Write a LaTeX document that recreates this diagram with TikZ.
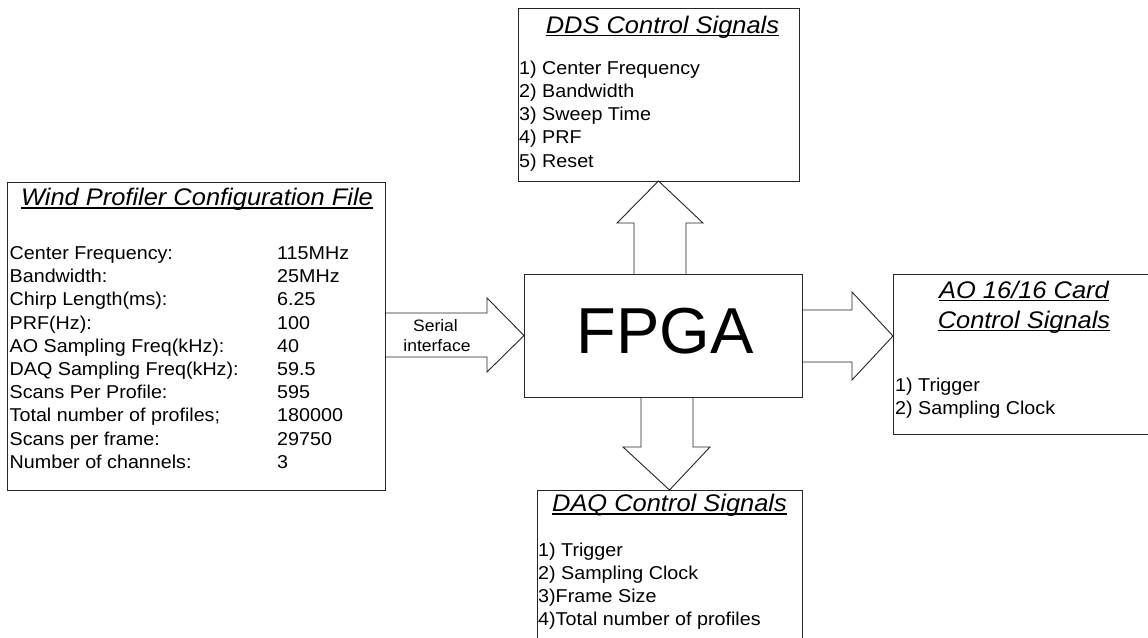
\documentclass[tikz,border=0pt]{standalone}
\usepackage{fontspec}
\setmainfont{Liberation Sans}
\newfontfamily\lsans{Liberation Sans}[FakeStretch=1.06]
\newfontfamily\plainsans{Liberation Sans}
\usetikzlibrary{calc}
\newcommand\bodyf{\lsans\fontsize{18.6pt}{23.3pt}\selectfont}
\newcommand\titf{\lsans\itshape\fontsize{24pt}{30pt}\selectfont}
\newcommand\fpgaf{\plainsans\fontsize{65pt}{70pt}\selectfont}
\newcommand\serf{\lsans\fontsize{16.5pt}{20pt}\selectfont}
\tikzset{
  box/.style={draw=black!85, line width=0.9pt, inner sep=0pt, outer sep=0pt, fill=none},
  txt/.style={inner sep=0pt, anchor=base west, font=\bodyf},
  ttl/.style={inner sep=0pt, anchor=base, font=\titf},
  uline/.style={line width=1.2pt, black},
  fat/.style={draw=black!85, line width=0.9pt, line join=miter}
}
\begin{document}
\begin{tikzpicture}[x=1pt,y=-1pt]
\useasboundingbox (0,0) rectangle (1148,637);
\clip (0,0) rectangle (1148,637);
\fill[white] (0,0) rectangle (1148,637);

% boxes
\node[box, minimum width=378pt, minimum height=308pt] (wind) at (196,336) {};
\node[box, minimum width=278pt, minimum height=123pt] (fpga) at (663,335.5) {};
\node[box, minimum width=281pt, minimum height=173pt] (dds) at (658.5,94.5) {};
\node[box, minimum width=277pt, minimum height=160pt] (ao) at (1031.5,354) {};
\node[box, minimum width=265pt, minimum height=170pt] (daq) at (669.5,575) {};

% wind profiler text
\node[ttl] (wtitle) at (197,205.5) {Wind Profiler Configuration File};
\draw[uline] ([yshift=-2.5pt]wtitle.base west) -- ([yshift=-2.5pt]wtitle.base east);
\foreach \lab/\val [count=\i from 0] in {
  {Center Frequency:}/{115MHz},
  {Bandwidth:}/{25MHz},
  {Chirp Length(ms):}/{6.25},
  {PRF(Hz):}/{100},
  {AO Sampling Freq(kHz):}/{40},
  {DAQ Sampling Freq(kHz):}/{59.5},
  {Scans Per Profile:}/{595},
  {Total number of profiles;}/{180000},
  {Scans per frame:}/{29750},
  {Number of channels:}/{3}} {
  \node[txt] (wl\i) at (9.5,259.5+23.2*\i) {\lab};
  \node[txt] (wv\i) at (277,259.5+23.2*\i) {\val};
}

% FPGA label
\node[inner sep=0pt, font=\fpgaf] (fpgalabel) at (665,331) {FPGA};

% DDS text
\node[ttl] (dtitle) at (662.5,33) {DDS Control Signals};
\draw[uline] ([yshift=-2.5pt]dtitle.base west) -- ([yshift=-2.5pt]dtitle.base east);
\foreach \t [count=\i from 0] in {{1) Center Frequency},{2) Bandwidth},{3) Sweep Time},{4) PRF},{5) Reset}} {
  \node[txt] (dd\i) at (519,74.2+23.2*\i) {\t};
}

% AO text
\node[ttl] (atitle1) at (1024,298) {AO 16/16 Card};
\draw[uline] ([yshift=-2.5pt]atitle1.base west) -- ([yshift=-2.5pt]atitle1.base east);
\node[ttl] (atitle2) at (1024,328) {Control Signals};
\draw[uline] ([yshift=-2.5pt]atitle2.base west) -- ([yshift=-2.5pt]atitle2.base east);
\node[txt] (ao1) at (895,391.5) {1) Trigger};
\node[txt] (ao2) at (895,414.5) {2) Sampling Clock};

% DAQ text
\node[ttl] (qtitle) at (669.5,511.5) {DAQ Control Signals};
\draw[uline] ([yshift=-2.5pt]qtitle.base west) -- ([yshift=-2.5pt]qtitle.base east);
\foreach \t [count=\i from 0] in {{1) Trigger},{2) Sampling Clock},{3)Frame Size},{4)Total number of profiles}} {
  \node[txt] (dq\i) at (538,556.5+23*\i) {\t};
}

% fat arrows
\draw[fat] (wind.east |- 0,313) -- (487,313) -- (487,298) -- (fpga.west) -- (487,372) -- (487,357) -- (wind.east |- 0,357);
\node[inner sep=0pt, anchor=base, font=\serf] (ser1) at (435.5,331) {Serial};
\node[inner sep=0pt, anchor=base, font=\serf] (ser2) at (437,351) {interface};

\draw[fat] (634,0 |- fpga.north) -- (634,223) -- (617,223) -- (dds.south) -- (703,223) -- (686,223) -- (686,0 |- fpga.north);
\draw[fat] (641,0 |- fpga.south) -- (641,447) -- (623,447) -- (daq.north) -- (710,447) -- (693,447) -- (693,0 |- fpga.south);
\draw[fat] (fpga.east |- 0,310) -- (852,310) -- (852,292) -- (ao.west |- 0,336) -- (852,380) -- (852,362) -- (fpga.east |- 0,362);
\end{tikzpicture}
\end{document}
